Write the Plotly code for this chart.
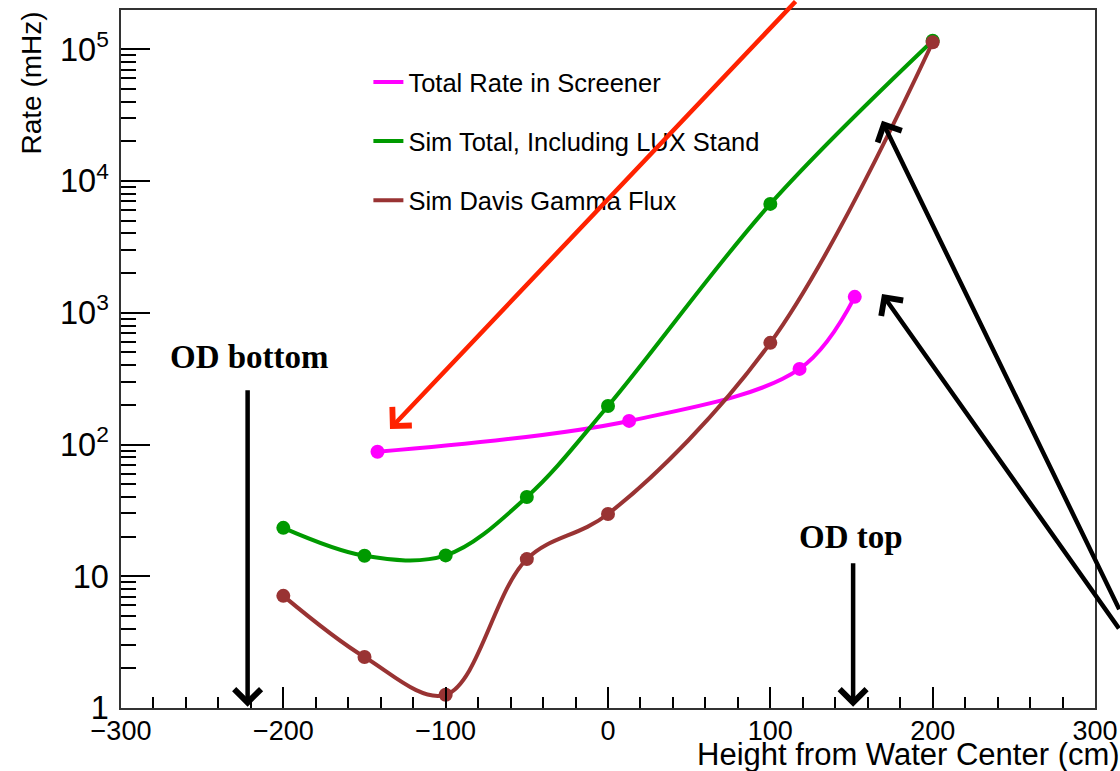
import plotly.graph_objects as go

# ---- data ----
x_screener = [-142, 13, 118, 152]
rate_screener = [88, 151, 375, 1320]

x_sim = [-200, -150, -100, -50, 0, 100, 200]
rate_sim_total = [23.3, 14.3, 14.4, 40, 196, 6700, 116000]
rate_davis = [7.1, 2.44, 1.26, 13.5, 29.7, 591, 113000]

series_names = ["Total Rate in Screener", "Sim Total, Including LUX Stand", "Sim Davis Gamma Flux"]
series_colors = ["#ff00ff", "#009a00", "#993333"]

x_ticks = [-300, -200, -100, 0, 100, 200, 300]
x_tick_text = ["\u2212300", "\u2212200", "\u2212100", "0", "100", "200", "300"]

# annotation anchor points (data coordinates; y in log10 units)
od_bottom_x, od_top_x = -222, 151

FONT = "Liberation Sans, Arial, sans-serif"
SERIF = "Liberation Serif, Times New Roman, serif"

fig = go.Figure()
series = [(x_screener, rate_screener), (x_sim, rate_sim_total), (x_sim, rate_davis)]
for i, ((xs, ys), name, col) in enumerate(zip(series, series_names, series_colors)):
    fig.add_trace(go.Scatter(
        x=xs, y=ys, mode="lines", name=name, legendgroup=f"g{i}",
        line=dict(color=col, width=4, shape="spline", smoothing=1.0),
        showlegend=True))
    fig.add_trace(go.Scatter(
        x=xs, y=ys, mode="markers", name=name, legendgroup=f"g{i}",
        marker=dict(color=col, size=14), showlegend=False))

W, H = 1120, 771
L, R, T, B = 121, 25, 10, 63

fig.update_layout(
    width=W, height=H,
    margin=dict(l=L, r=R, t=T, b=B, pad=0, autoexpand=False),
    paper_bgcolor="white", plot_bgcolor="white",
    font=dict(family=FONT, size=26, color="black"),
    showlegend=True,
    legend=dict(x=0.254, y=0.930, xanchor="left", yanchor="top",
                bgcolor="rgba(0,0,0,0)", borderwidth=0,
                font=dict(family=FONT, size=25.5, color="black"),
                traceorder="grouped", tracegroupgap=23, itemwidth=30),
)

fig.update_xaxes(
    range=[-300, 300], tickvals=x_ticks, ticktext=x_tick_text,
    ticks="inside", ticklen=21, tickwidth=1.5, tickcolor="black",
    minor=dict(ticks="inside", ticklen=11, tickwidth=1.5, tickcolor="black", dtick=20, showgrid=False),
    showline=True, linecolor="#333333", linewidth=2, mirror=True,
    showgrid=False, zeroline=False, automargin=False,
    tickfont=dict(family=FONT, size=27, color="black"),
    ticklabelstandoff=-2,
)
fig.update_yaxes(
    type="log", range=[0, 5.298], dtick=1, exponentformat="power",
    ticks="inside", ticklen=29, tickwidth=1.5, tickcolor="black",
    minor=dict(ticks="inside", ticklen=15, tickwidth=1.5, tickcolor="black", dtick="D1", showgrid=False),
    showline=True, linecolor="#333333", linewidth=2, mirror=True,
    showgrid=False, zeroline=False, automargin=False,
    tickfont=dict(family=FONT, size=26, color="black"),
    ticklabelstandoff=5,
)

anns = []
# axis titles
anns.append(dict(text="Height from Water Center (cm)", xref="paper", yref="paper",
                 x=(1122 - L) / (W - L - R), y=(H - B - 754) / (H - T - B),
                 xanchor="right", yanchor="middle", showarrow=False,
                 font=dict(family=FONT, size=31, color="black")))
anns.append(dict(text="Rate (mHz)", xref="paper", yref="paper",
                 x=(31 - L) / (W - L - R), y=1.0, textangle=-90,
                 xanchor="center", yanchor="top", showarrow=False,
                 font=dict(family=FONT, size=28, color="black")))
# OD labels
anns.append(dict(text="<b>OD bottom</b>", x=-220.6, y=2.665, xref="x", yref="y",
                 showarrow=False, font=dict(family=SERIF, size=33, color="black")))
anns.append(dict(text="<b>OD top</b>", x=149.7, y=1.298, xref="x", yref="y",
                 showarrow=False, font=dict(family=SERIF, size=33, color="black")))

# arrows
def arrow(x, y, ax, ay, color, width):
    return dict(text="", x=x, y=y, xref="x", yref="y", ax=ax, ay=ay, axref="pixel", ayref="pixel",
                showarrow=True, arrowhead=4, arrowsize=1.15, arrowwidth=width, arrowcolor=color,
                standoff=0, startstandoff=0)

anns.append(arrow(od_bottom_x, 0.01, 0, -318, "black", 4.5))
anns.append(arrow(od_top_x, 0.01, 0, -145, "black", 4.5))
anns.append(arrow(-134.3, 2.118, 407, -439, "#ff2200", 4.5))
anns.append(arrow(168.8, 4.457, 248, 490, "black", 4.5))
anns.append(arrow(168.8, 3.143, 248, 336, "black", 4.5))

fig.update_layout(annotations=anns)

fig.write_html("out.html")
